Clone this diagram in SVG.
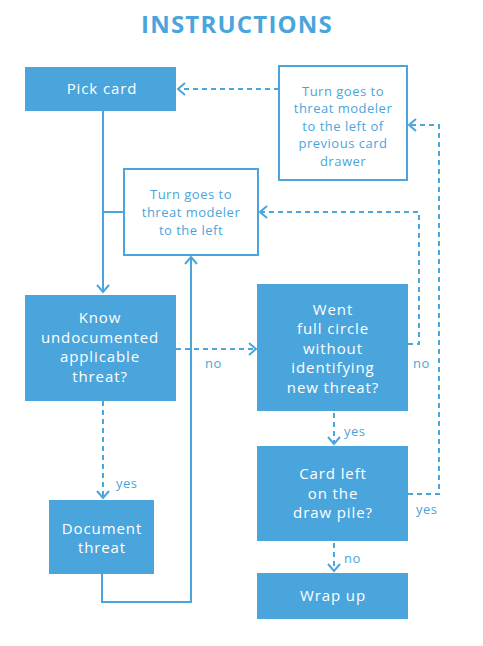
<svg xmlns="http://www.w3.org/2000/svg" width="483" height="646" viewBox="0 0 483 646">
<defs>
<style>
.f{fill:#4aa5dc}
.o{fill:#fff;stroke:#4aa5dc;stroke-width:2}
.t{font-family:"Open Sans","Liberation Sans",sans-serif;font-size:15px;fill:#fff;text-anchor:middle;font-weight:500;letter-spacing:0.9px}
.ts{font-family:"Open Sans","Liberation Sans",sans-serif;font-size:13px;fill:#4aa5dc;text-anchor:middle;font-weight:500;letter-spacing:0.5px}
.l{font-family:"Open Sans","Liberation Sans",sans-serif;font-size:13px;fill:#4aa5dc;font-weight:500;letter-spacing:0.5px}
.c{fill:none;stroke:#4aa5dc;stroke-width:2}
.d{fill:none;stroke:#4aa5dc;stroke-width:2;stroke-dasharray:5 4}
</style>
<marker id="a" markerUnits="userSpaceOnUse" markerWidth="14" markerHeight="14" refX="10" refY="7" orient="auto">
<path d="M3,1 L10,7 L3,13" fill="none" stroke="#4aa5dc" stroke-width="2"/>
</marker>
</defs>
<rect width="483" height="646" fill="#fff"/>
<text x="237" y="33" style="font-family:'Open Sans','Liberation Sans',sans-serif;font-size:24px;font-weight:700;fill:#4aa5dc;letter-spacing:1.2px" text-anchor="middle">INSTRUCTIONS</text>

<g id="connectors">
<path class="c" d="M103,111 V292" marker-end="url(#a)"/>
<path class="c" d="M103,212 H124"/>
<path class="c" d="M102,574 V602 H191 V257" marker-end="url(#a)"/>
<path class="d" d="M279,89 H178" marker-end="url(#a)"/>
<path class="d" d="M176,349 H256" marker-end="url(#a)"/>
<path class="d" d="M408,344 H419 V212 H260" marker-end="url(#a)"/>
<path class="d" d="M408,494 H439 V125 H409" marker-end="url(#a)"/>
<path class="d" d="M103,401 V498" marker-end="url(#a)"/>
<path class="d" d="M334,413 V444" marker-end="url(#a)"/>
<path class="d" d="M334,543 V571" marker-end="url(#a)"/>
<text class="l" x="205" y="368">no</text>
<text class="l" x="413" y="368">no</text>
<text class="l" x="116" y="488">yes</text>
<text class="l" x="344" y="436">yes</text>
<text class="l" x="416" y="514">yes</text>
<text class="l" x="344" y="563">no</text>
</g>

<g id="pick-card">
<rect class="f" x="25" y="67" width="151" height="44"/>
<text class="t" x="102" y="94">Pick card</text>
</g>
<g id="turn-previous">
<rect class="o" x="279" y="66" width="128" height="114"/>
<text class="ts" x="343" y="96">Turn goes to</text>
<text class="ts" x="343" y="113">threat modeler</text>
<text class="ts" x="343" y="131">to the left of</text>
<text class="ts" x="343" y="148">previous card</text>
<text class="ts" x="343" y="166">drawer</text>
</g>
<g id="turn-left">
<rect class="o" x="124" y="169" width="134" height="86"/>
<text class="ts" x="191" y="199">Turn goes to</text>
<text class="ts" x="191" y="217">threat modeler</text>
<text class="ts" x="191" y="235">to the left</text>
</g>
<g id="know">
<rect class="f" x="25" y="295" width="151" height="106"/>
<text class="t" x="100" y="323">Know</text>
<text class="t" x="100" y="343">undocumented</text>
<text class="t" x="100" y="362">applicable</text>
<text class="t" x="100" y="382">threat?</text>
</g>
<g id="went-full-circle">
<rect class="f" x="257" y="284" width="151" height="127"/>
<text class="t" x="333" y="315">Went</text>
<text class="t" x="333" y="334">full circle</text>
<text class="t" x="333" y="354">without</text>
<text class="t" x="333" y="373">identifying</text>
<text class="t" x="333" y="393">new threat?</text>
</g>
<g id="document-threat">
<rect class="f" x="49" y="500" width="105" height="74"/>
<text class="t" x="102" y="534">Document</text>
<text class="t" x="102" y="553">threat</text>
</g>
<g id="card-left">
<rect class="f" x="257" y="446" width="151" height="95"/>
<text class="t" x="333" y="479">Card left</text>
<text class="t" x="333" y="499">on the</text>
<text class="t" x="333" y="518">draw pile?</text>
</g>
<g id="wrap-up">
<rect class="f" x="257" y="573" width="151" height="46"/>
<text class="t" x="333" y="601">Wrap up</text>
</g>
</svg>
